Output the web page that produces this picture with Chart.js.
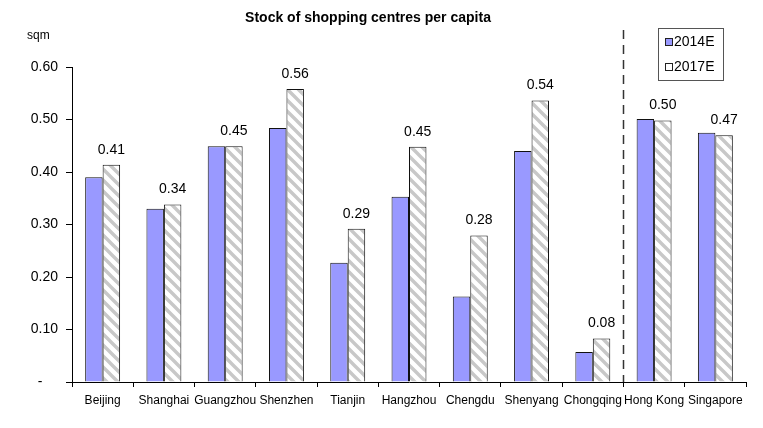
<!DOCTYPE html>
<html>
<head>
<meta charset="utf-8">
<script src="https://cdn.jsdelivr.net/npm/chart.js@4"></script>
<style>
  html, body { margin: 0; padding: 0; background: #fff; }
  canvas { display: block; }
</style>
</head>
<body>
<canvas id="stock-chart" width="763" height="428"></canvas>
<script>
const cities = ['Beijing', 'Shanghai', 'Guangzhou', 'Shenzhen', 'Tianjin', 'Hangzhou',
    'Chengdu', 'Shenyang', 'Chongqing', 'Hong Kong', 'Singapore'];
const stock2014 = [0.390, 0.330, 0.449, 0.484, 0.227, 0.353, 0.163, 0.440, 0.057, 0.501, 0.475];
const stock2017 = [0.414, 0.338, 0.449, 0.558, 0.292, 0.448, 0.279, 0.536, 0.083, 0.498, 0.470];
const seriesNames = ['2014E', '2017E'];

const FONT = 'Liberation Sans, Arial, sans-serif';
Chart.defaults.font.family = FONT;
Chart.defaults.color = '#000';

// grey diagonal stripes on white for the 2017 bars
function stripePattern() {
    const s = 11;
    const c = document.createElement('canvas');
    c.width = s;
    c.height = s;
    const g = c.getContext('2d');
    g.fillStyle = '#fff';
    g.fillRect(0, 0, s, s);
    g.strokeStyle = '#c8c8c8';
    g.lineWidth = 3.4;
    g.beginPath();
    for (let k = -s; k <= s; k += s) {
        g.moveTo(k - 3, -3);
        g.lineTo(k + s + 3, s + 3);
    }
    g.stroke();
    return g.createPattern(c, 'repeat');
}

const extras = {
    id: 'extras',
    afterDraw(chart) {
        const ctx = chart.ctx;
        const x = chart.scales.x;
        const y = chart.scales.y;
        ctx.save();

        // title and unit
        ctx.fillStyle = '#000';
        ctx.textAlign = 'center';
        ctx.textBaseline = 'middle';
        ctx.font = 'bold 14px ' + FONT;
        ctx.fillText('Stock of shopping centres per capita', 368, 18);
        ctx.font = '12px ' + FONT;
        ctx.textAlign = 'left';
        ctx.fillText('sqm', 27, 36);

        // value labels over the 2017 bars
        ctx.font = '14px ' + FONT;
        ctx.textAlign = 'center';
        chart.getDatasetMeta(1).data.forEach((bar, i) => {
            ctx.fillText(stock2017[i].toFixed(2), bar.x, bar.y - 15);
        });

        // dashed separator between mainland cities and the rest
        const sepX = Math.round((x.getPixelForValue(8) + x.getPixelForValue(9)) / 2) + 0.5;
        ctx.strokeStyle = '#333';
        ctx.lineWidth = 1.5;
        ctx.setLineDash([9, 6]);
        ctx.beginPath();
        ctx.moveTo(sepX, 30);
        ctx.lineTo(sepX, y.bottom);
        ctx.stroke();
        ctx.setLineDash([]);

        // legend box
        ctx.lineWidth = 1;
        ctx.strokeStyle = '#555';
        ctx.strokeRect(658.5, 28.5, 65, 52);
        const fills = ['#9999ff', '#fff'];
        ctx.font = '14px ' + FONT;
        ctx.textAlign = 'left';
        seriesNames.forEach((name, i) => {
            const cy = 42 + i * 25;
            ctx.fillStyle = fills[i];
            ctx.fillRect(665, cy - 4, 7, 7);
            ctx.strokeStyle = '#222';
            ctx.strokeRect(665.5, cy - 3.5, 7, 7);
            ctx.fillStyle = '#000';
            ctx.fillText(name, 674, cy);
        });
        ctx.restore();
    }
};

new Chart(document.getElementById('stock-chart'), {
    type: 'bar',
    data: {
        labels: cities,
        datasets: [{
            label: seriesNames[0],
            data: stock2014,
            backgroundColor: '#9999ff',
            borderColor: '#111',
            borderWidth: 1
        }, {
            label: seriesNames[1],
            data: stock2017,
            backgroundColor: stripePattern(),
            borderColor: '#111',
            borderWidth: 1
        }]
    },
    options: {
        responsive: false,
        animation: false,
        events: [],
        categoryPercentage: 0.57,
        barPercentage: 1,
        layout: { padding: { top: 67, right: 17, left: 0, bottom: 0 } },
        plugins: {
            legend: { display: false },
            title: { display: false },
            tooltip: { enabled: false }
        },
        scales: {
            x: {
                grid: { display: true, drawOnChartArea: false, drawTicks: true, tickLength: 5, offset: true, color: '#000' },
                border: { display: true, color: '#000', width: 1 },
                ticks: { font: { size: 12 }, padding: 6, maxRotation: 0, autoSkip: false },
                afterFit(scale) { scale.height = 46; }
            },
            y: {
                min: 0,
                max: 0.6,
                grid: { display: true, drawOnChartArea: false, drawTicks: true, tickLength: 6, color: '#000' },
                border: { display: true, color: '#000', width: 1 },
                ticks: {
                    stepSize: 0.1,
                    font: { size: 14 },
                    padding: 8,
                    callback: v => v === 0 ? '-    ' : v.toFixed(2)
                },
                afterFit(scale) { scale.width = 72; }
            }
        }
    },
    plugins: [extras]
});
</script>
</body>
</html>
